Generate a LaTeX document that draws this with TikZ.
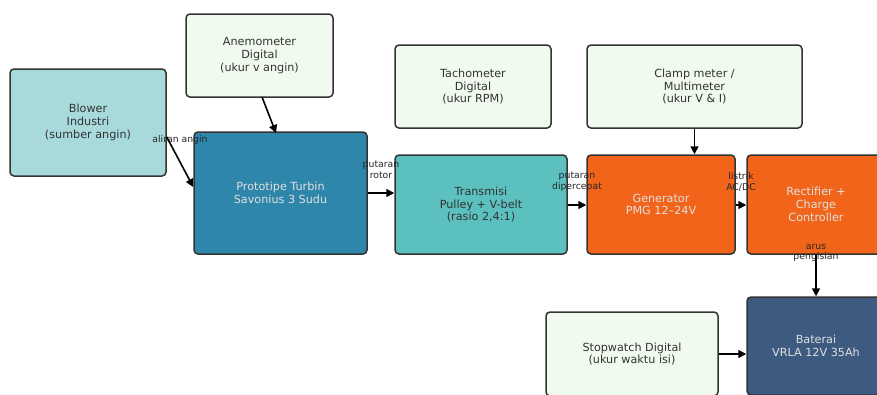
\documentclass[tikz,border=0pt]{standalone}
\usepackage{fontspec}
\setmainfont{DejaVu Sans}
\usetikzlibrary{arrows.meta}
\definecolor{cblow}{HTML}{A8DADC}
\definecolor{cmeas}{HTML}{F1FAEE}
\definecolor{cturb}{HTML}{2E86AB}
\definecolor{ctrans}{HTML}{5BC0BE}
\definecolor{cgen}{HTML}{F26419}
\definecolor{cbat}{HTML}{3D5A80}
\definecolor{cedge}{HTML}{333333}
\tikzset{
  box/.style={draw=cedge, line width=1.5pt, rounded corners=4pt, align=center,
    font=\fontsize{11.2}{12.7}\selectfont, inner sep=0pt},
  lightbox/.style={box, text=cedge},
  darkbox/.style={box, text=white!88!black},
  conn/.style={-{Triangle[length=8pt,width=8pt]}, line width=1.6pt, black},
  lbl/.style={font=\fontsize{9.3}{10.7}\selectfont, align=center, text=black!85, inner sep=0pt}
}
\begin{document}
\begin{tikzpicture}[x=1pt,y=-1pt]
\useasboundingbox (0,0) rectangle (877,394);
\clip (0,0) rectangle (877,394);
\node[lightbox, fill=cblow, minimum width=156pt, minimum height=107pt] (blow) at (88,122.5) {Blower\\Industri\\(sumber angin)};
\node[lightbox, fill=cmeas, minimum width=147pt, minimum height=83pt] (anem) at (259.5,55.5) {Anemometer\\Digital\\(ukur v angin)};
\node[darkbox, fill=cturb, minimum width=173pt, minimum height=122pt] (turb) at (280.5,193) {Prototipe Turbin\\Savonius 3 Sudu};
\node[lightbox, fill=cmeas, minimum width=156pt, minimum height=83pt] (tach) at (473,86.5) {Tachometer\\Digital\\(ukur RPM)};
\node[lightbox, fill=cmeas, minimum width=215pt, minimum height=83pt] (clamp) at (694.5,86.5) {Clamp meter /\\Multimeter\\(ukur V \& I)};
\node[lightbox, fill=ctrans, minimum width=172pt, minimum height=99pt] (trans) at (481,204.5) {Transmisi\\Pulley + V-belt\\(rasio 2,4:1)};
\node[darkbox, fill=cgen, minimum width=148pt, minimum height=99pt] (gen) at (661,204.5) {Generator\\PMG 12–24V};
\node[darkbox, fill=cgen, minimum width=138pt, minimum height=99pt] (rect) at (816,204.5) {Rectifier +\\Charge\\Controller};
\node[lightbox, fill=cmeas, minimum width=172pt, minimum height=84pt] (stop) at (632,354) {Stopwatch Digital\\(ukur waktu isi)};
\node[darkbox, fill=cbat, minimum width=138pt, minimum height=98pt] (bat) at (816,346) {Baterai\\VRLA 12V 35Ah};

\node[lbl] (l1) at (180,140) {aliran angin};
\node[lbl] (l2) at (381,170) {putaran\\rotor};
\node[lbl] (l3) at (577,182) {putaran\\dipercepat};
\node[lbl] (l4) at (741,182) {listrik\\AC/DC};
\node[lbl] (l5) at (816,253) {arus\\pengisian};

\draw[conn] (blow.east |- 0,137) -- (turb.west |- 0,187);
\draw[conn] (262,97) -- (276,133);
\draw[conn] (turb.east |- 0,193) -- (trans.west |- 0,193);
\draw[conn] (trans.east |- 0,205) -- (gen.west |- 0,205);
\draw[conn] (clamp.south) -- (gen.north -| clamp.south);
\draw[conn] (gen.east |- 0,205) -- (rect.west |- 0,205);
\draw[conn] (rect.south) -- (bat.north);
\draw[conn] (stop.east |- 0,354) -- (bat.west |- 0,354);
\end{tikzpicture}
\end{document}
